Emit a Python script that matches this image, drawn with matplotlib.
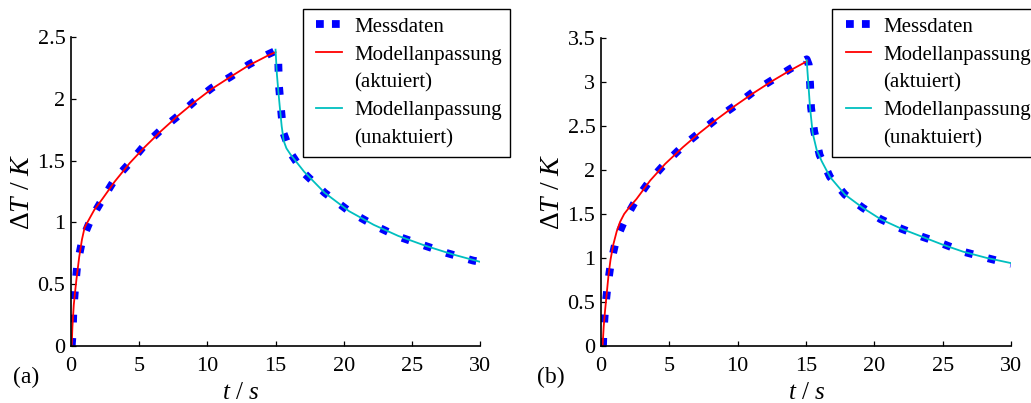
import matplotlib
matplotlib.use('Agg')
import matplotlib.pyplot as plt
from matplotlib.lines import Line2D
from matplotlib.legend_handler import HandlerLine2D
from matplotlib.ticker import FormatStrFormatter

plt.rcParams['font.family'] = 'Liberation Serif'
plt.rcParams['mathtext.fontset'] = 'custom'
plt.rcParams['mathtext.rm'] = 'Liberation Serif'
plt.rcParams['mathtext.it'] = 'Liberation Serif:italic'

# ---- (a) measured data
mess_t_a = [0.05, 0.12, 0.17, 0.3, 0.46, 0.83, 1.47, 2.32, 3.22, 4.37, 5.35, 6.6, 7.82,
            9.04, 10.33, 11.7, 13.05, 14.41, 15.0, 15.15, 15.2, 15.25, 15.4, 15.56,
            16.17, 17.08, 18.6, 20.4, 22.16, 23.87, 25.7, 27.6, 29.5, 30.0]
mess_y_a = [0.0, 0.1, 0.28, 0.47, 0.66, 0.86, 1.03, 1.19, 1.35, 1.49, 1.62, 1.75, 1.86,
            1.98, 2.09, 2.18, 2.28, 2.36, 2.39, 2.37, 2.31, 2.11, 1.92, 1.73,
            1.55, 1.40, 1.24, 1.09, 0.98, 0.89, 0.82, 0.75, 0.69, 0.68]
# ---- (a) fit, actuated
fit_akt_t_a = [0.05, 0.1, 0.2, 0.3, 0.4, 0.5, 0.6, 0.8, 1.0, 1.3, 1.7, 2.3, 3.2, 4.3, 5.4,
               6.6, 7.8, 9.0, 10.3, 11.7, 13.0, 14.4, 15.0]
fit_akt_y_a = [0.0, 0.15, 0.33, 0.44, 0.54, 0.63, 0.72, 0.86, 0.96, 1.02, 1.1, 1.19, 1.33,
               1.48, 1.61, 1.74, 1.86, 1.97, 2.08, 2.18, 2.27, 2.35, 2.38]
# ---- (a) fit, unactuated
fit_unakt_t_a = [15.0, 15.05, 15.1, 15.2, 15.3, 15.45, 15.6, 15.8, 16.1, 16.6, 17.1, 18.6,
                 20.4, 22.2, 24.0, 26.0, 28.0, 30.0]
fit_unakt_y_a = [2.40, 2.3, 2.2, 2.07, 1.95, 1.78, 1.66, 1.60, 1.55, 1.48, 1.41, 1.24,
                 1.09, 0.98, 0.89, 0.81, 0.74, 0.68]

# ---- (b) measured data
mess_t_b = [0.15, 0.17, 0.29, 0.46, 0.71, 1.1, 1.76, 2.61, 3.63, 4.73, 5.98, 7.24, 8.51,
            9.8, 11.15, 12.49, 13.83, 15.05, 15.2, 15.3, 15.37, 15.6, 16.0, 16.76,
            17.85, 19.15, 20.46, 22.0, 23.5, 25.0, 26.5, 28.2, 29.7, 30.0]
mess_y_b = [0.0, 0.11, 0.39, 0.65, 0.93, 1.20, 1.44, 1.67, 1.89, 2.08, 2.27, 2.43, 2.59,
            2.73, 2.89, 3.02, 3.15, 3.26, 3.2, 2.98, 2.71, 2.44, 2.17, 1.92,
            1.72, 1.57, 1.44, 1.33, 1.24, 1.16, 1.07, 1.00, 0.94, 0.93]
# ---- (b) fit, actuated
fit_akt_t_b = [0.12, 0.2, 0.3, 0.4, 0.55, 0.7, 0.9, 1.15, 1.4, 1.7, 2.1, 2.6, 3.6, 4.7,
               6.0, 7.2, 8.5, 9.8, 11.1, 12.5, 13.8, 15.1]
fit_akt_y_b = [0.0, 0.22, 0.4, 0.56, 0.8, 0.98, 1.15, 1.3, 1.41, 1.5, 1.58, 1.67, 1.88,
               2.07, 2.26, 2.42, 2.58, 2.73, 2.87, 3.01, 3.13, 3.24]
# ---- (b) fit, unactuated
fit_unakt_t_b = [15.05, 15.17, 15.29, 15.49, 15.78, 16.15, 16.76, 17.85, 19.15, 20.46,
                 22.0, 23.5, 25.0, 26.5, 28.2, 30.0]
fit_unakt_y_b = [3.25, 2.99, 2.72, 2.42, 2.23, 2.10, 1.92, 1.72, 1.57, 1.44,
                 1.33, 1.24, 1.15, 1.07, 1.00, 0.94]

ylims = [2.5, 3.5]
xticks = [0, 5, 10, 15, 20, 25, 30]
panel_labels = ['(a)', '(b)']
legend_labels = ['Messdaten', 'Modellanpassung', '(aktuiert)', 'Modellanpassung', '(unaktuiert)']

fig = plt.figure(figsize=(10.31, 4.03), dpi=100)
ax_a = fig.add_axes([0.0689, 0.1422, 0.3967, 0.7652])
ax_b = fig.add_axes([0.5829, 0.1422, 0.3977, 0.7630])

panels = [
    (ax_a, mess_t_a, mess_y_a, fit_akt_t_a, fit_akt_y_a, fit_unakt_t_a, fit_unakt_y_a),
    (ax_b, mess_t_b, mess_y_b, fit_akt_t_b, fit_akt_y_b, fit_unakt_t_b, fit_unakt_y_b),
]
leg_x = [303 / 1031, 832.3 / 1031]
xlab_x = [0.414, 0.502]
lab_x = [12.5 / 1031, 536.5 / 1031]

for i, (ax, mt, my, at, ay, ut, uy) in enumerate(panels):
    ax.plot(mt, my, color='blue', lw=5.6, dashes=(1, 2.0))
    l2, = ax.plot(at, ay, color='red', lw=1.3)
    l3, = ax.plot(ut, uy, color='#00BFBF', lw=1.3)
    # legend proxies (matlab draws the dotted handle tighter)
    l1 = Line2D([], [], color='blue', lw=5.6, dashes=(1, 1.05))
    blank = Line2D([], [], color='none')

    ax.set_xlim(0, 30)
    ax.set_ylim(0, ylims[i])
    ax.set_xticks(xticks)
    ax.set_yticks([k * 0.5 for k in range(int(ylims[i] * 2) + 1)])
    ax.yaxis.set_major_formatter(FormatStrFormatter('%g'))
    ax.spines['top'].set_visible(False)
    ax.spines['right'].set_visible(False)
    for s in ['left', 'bottom']:
        ax.spines[s].set_linewidth(1.2)
    ax.tick_params(direction='in', length=3.5, width=0.9, labelsize=16)
    ax.tick_params(axis='x', pad=8)
    ax.tick_params(axis='y', pad=4)

    ax.set_xlabel(r'$t$ / $s$', fontsize=18)
    ax.xaxis.set_label_coords(xlab_x[i], -0.118)
    ax.set_ylabel(r'$\Delta T$ / $K$', fontsize=20)
    ax.yaxis.set_label_coords(-0.088, 0.5)

    fig.text(lab_x[i], 0.0633, panel_labels[i], fontsize=17, va='center', ha='left')

    leg = ax.legend([l1, l2, blank, l3, blank], legend_labels, loc='upper left',
                    bbox_to_anchor=(leg_x[i], 1 - 8.7 / 403), bbox_transform=fig.transFigure,
                    borderaxespad=0, fontsize=15, handlelength=1.45, handletextpad=0.6,
                    borderpad=0.4, labelspacing=0.4, fancybox=False, framealpha=1,
                    edgecolor='black', handler_map={Line2D: HandlerLine2D(xpad=0.24)})
    leg.get_frame().set_linewidth(1.0)

fig.savefig('out.png', dpi=100)
